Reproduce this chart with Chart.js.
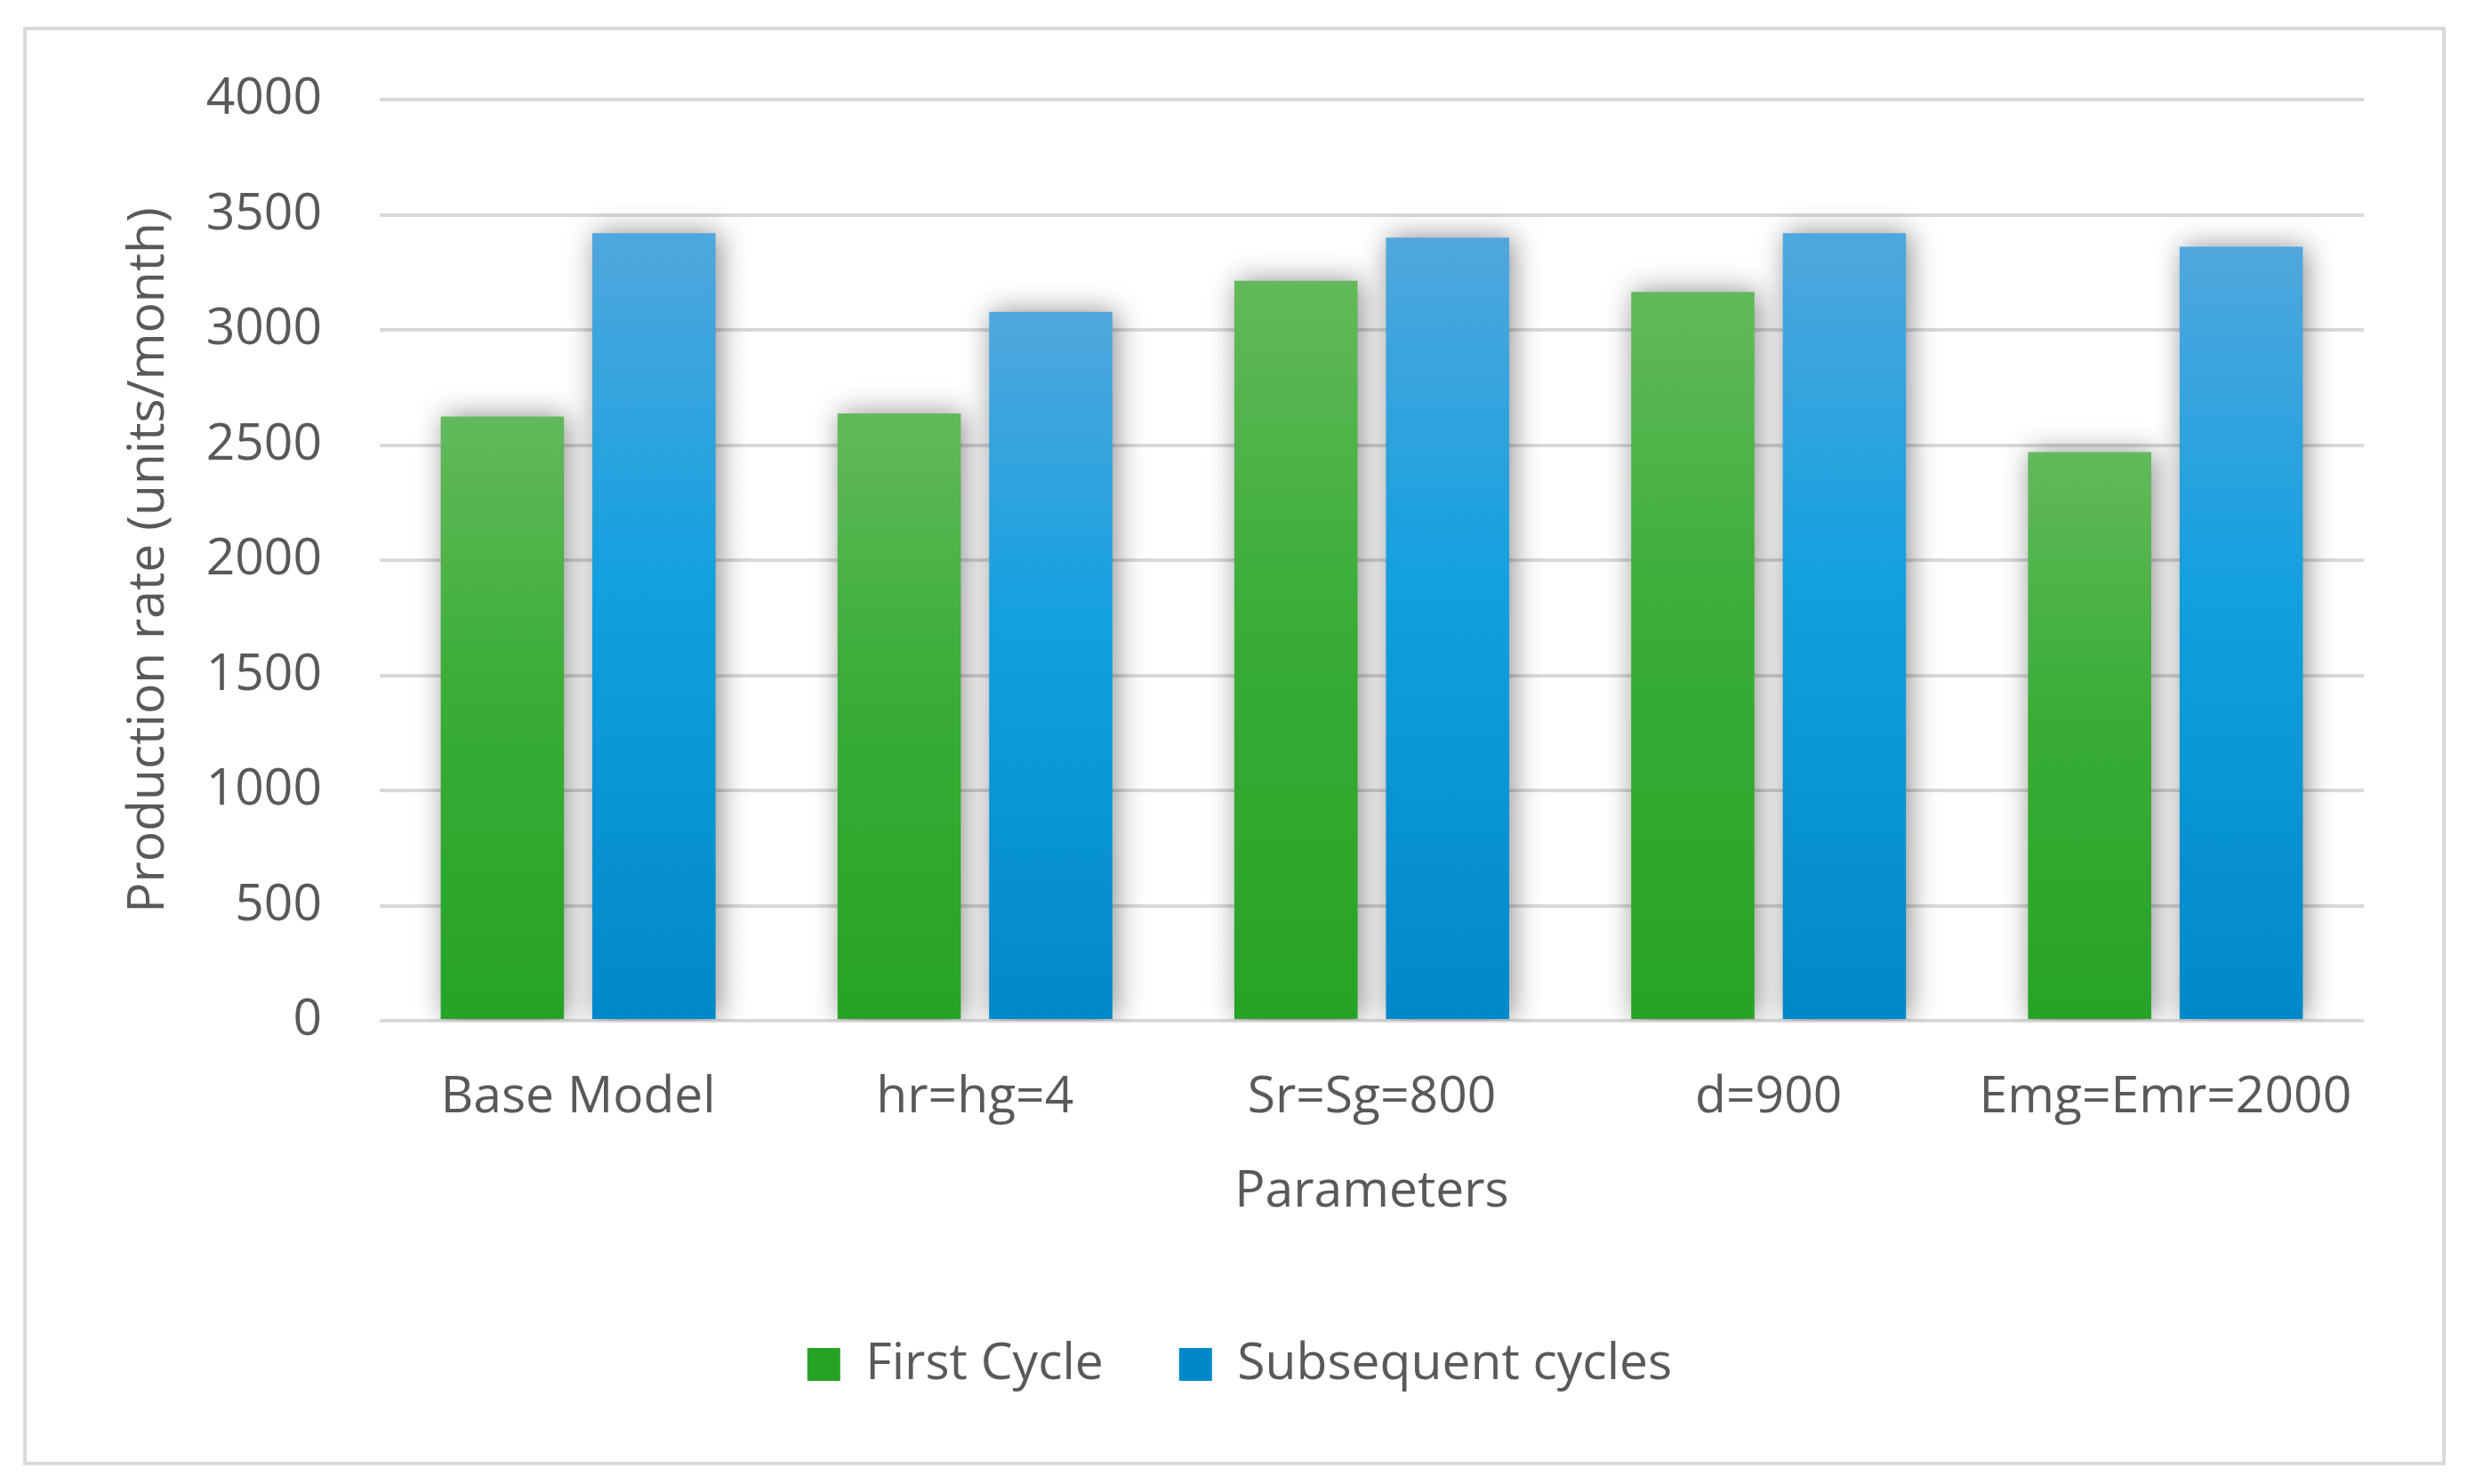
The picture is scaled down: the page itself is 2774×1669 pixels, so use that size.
<!DOCTYPE html>
<html>
<head>
<meta charset="utf-8">
<script src="https://cdn.jsdelivr.net/npm/chart.js@4"></script>
<style>
  html, body { margin: 0; padding: 0; background: #fff; }
  #wrap { position: relative; width: 2774px; height: 1669px; }
</style>
</head>
<body>
<div id="wrap"><canvas id="production-chart"></canvas></div>
<script>
const categories = ["Base Model", "hr=hg=4", "Sr=Sg=800", "d=900", "Emg=Emr=2000"];
const firstCycle = [2624, 2637, 3213, 3165, 2469];
const subsequentCycles = [3420, 3078, 3401, 3420, 3361];
const yTicks = [0, 500, 1000, 1500, 2000, 2500, 3000, 3500, 4000];

const textColor = "#595959";
const fontFamily = "'Open Sans', sans-serif";

// vertical gradient per bar, from its top down to the zero line
const barFill = (top, mid, bottom) => (ctx) => {
    const chart = ctx.chart;
    if (ctx.type !== "data" || !chart.chartArea) return mid;
    const y = chart.scales.y;
    const yTop = y.getPixelForValue(ctx.raw);
    const yZero = y.getPixelForValue(0);
    const g = chart.ctx.createLinearGradient(0, yTop, 0, yZero);
    g.addColorStop(0, top);
    g.addColorStop(0.45, mid);
    g.addColorStop(1, bottom);
    return g;
};

const frame = {
    id: "frame",
    beforeDraw(chart) {
        const c = chart.ctx;
        c.save();
        c.fillStyle = "#fff";
        c.fillRect(0, 0, chart.width, chart.height);
        c.strokeStyle = "#d9d9d9";
        c.lineWidth = 4;
        c.strokeRect(28, 32, 2720, 1614);
        c.restore();
    },
    beforeDatasetsDraw(chart) {
        const c = chart.ctx;
        c.save();
        c.shadowColor = "rgba(0, 0, 0, 0.45)";
        c.shadowBlur = 30;
        c.shadowOffsetX = 4;
        c.shadowOffsetY = 0;
    },
    afterDatasetsDraw(chart) {
        chart.ctx.restore();
    }
};

const productionChart = () => {
    const option = {
        type: "bar",
        data: {
            labels: categories,
            datasets: [{
                label: "First Cycle",
                data: firstCycle,
                backgroundColor: barFill("#63b95b", "#3aad37", "#26a325"),
            }, {
                label: "Subsequent cycles",
                data: subsequentCycles,
                backgroundColor: barFill("#50a7dd", "#12a0e0", "#0088ca"),
            }]
        },
        options: {
            responsive: false,
            animation: false,
            devicePixelRatio: 1,
            categoryPercentage: 0.764,
            barPercentage: 0.813,
            layout: { padding: { left: 130, top: 112, right: 116, bottom: 96 } },
            plugins: {
                tooltip: { enabled: false },
                legend: {
                    position: "bottom",
                    labels: {
                        color: textColor,
                        font: { family: fontFamily, size: 57 },
                        boxWidth: 37,
                        boxHeight: 37,
                        padding: 85,
                    }
                }
            },
            scales: {
                x: {
                    grid: { display: false, drawTicks: false },
                    border: { display: false },
                    ticks: {
                        color: textColor,
                        font: { family: fontFamily, size: 57 },
                        padding: 53,
                        maxRotation: 0,
                    },
                    title: {
                        display: true,
                        text: "Parameters",
                        color: textColor,
                        font: { family: fontFamily, size: 57 },
                        padding: { top: 0, bottom: 46 },
                    },
                    afterFit: (s) => { s.height = 273; }
                },
                y: {
                    min: 0,
                    max: 4000,
                    afterBuildTicks: (s) => { s.ticks = yTicks.map(v => ({ value: v })); },
                    grid: { color: "#d9d9d9", lineWidth: 4, drawTicks: false },
                    border: { display: false },
                    ticks: {
                        color: textColor,
                        font: { family: fontFamily, size: 57 },
                        padding: 65,
                        callback: (v) => String(v),
                    },
                    title: {
                        display: true,
                        text: "Production rate (units/month)",
                        color: textColor,
                        font: { family: fontFamily, size: 57 },
                        padding: { top: 4, bottom: 4 },
                    },
                    afterFit: (s) => { s.width = 297; }
                }
            }
        },
        plugins: [frame]
    };
    const canvas = document.getElementById("production-chart");
    canvas.width = 2774;
    canvas.height = 1669;
    new Chart(canvas, option);
};

productionChart();
</script>
</body>
</html>
